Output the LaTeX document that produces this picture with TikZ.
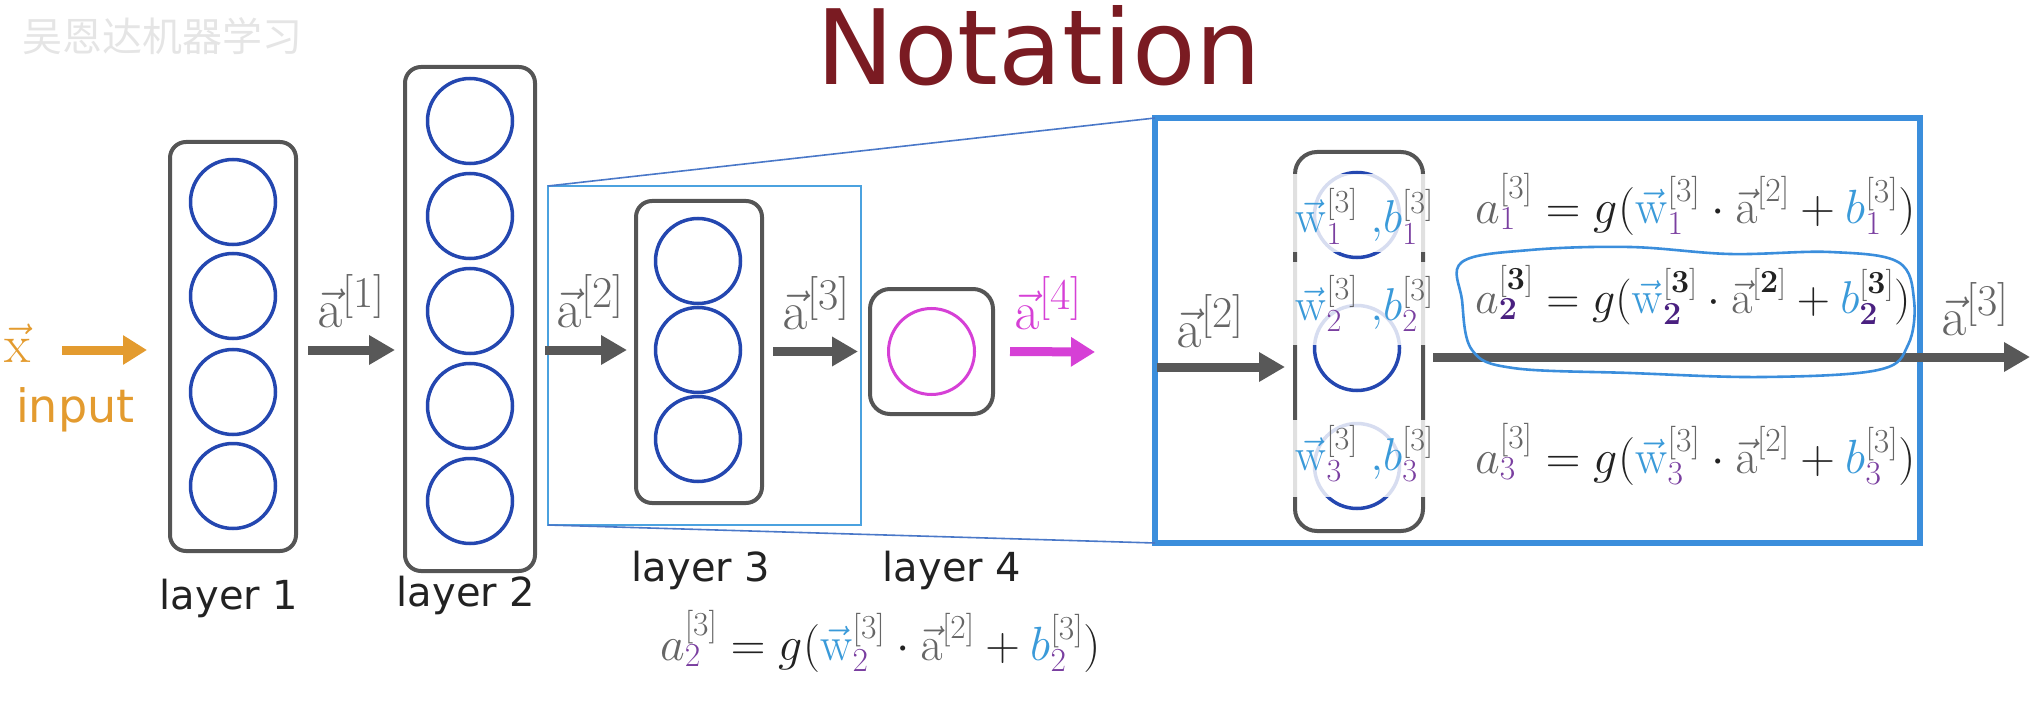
\RequirePackage{fix-cm}
\documentclass[tikz,border=0pt]{standalone}
\usepackage[no-math]{fontspec}
\setmainfont{DejaVu Sans}
\newfontfamily\cjk{Noto Sans CJK SC}
\usetikzlibrary{arrows.meta}
\definecolor{bgray}{HTML}{555555}
\definecolor{agray}{HTML}{585858}
\definecolor{gtx}{HTML}{666666}
\definecolor{ltext}{HTML}{222222}
\definecolor{nblue}{HTML}{2447B0}
\definecolor{wcol}{HTML}{3A9AD9}
\definecolor{pcol}{HTML}{7A3FA0}
\definecolor{hpur}{HTML}{4A2080}
\definecolor{ocol}{HTML}{E39B2F}
\definecolor{mcol}{HTML}{D640D6}
\definecolor{bblue}{HTML}{3B8EDC}
\definecolor{zblue}{HTML}{4BA2DF}
\definecolor{zline}{HTML}{4A78C8}
\definecolor{titlered}{HTML}{7A1B22}
\newcommand{\FSZ}[1]{\fontsize{#1}{#1}\selectfont}
\newcommand{\Cc}[2]{{{\color{#1}#2}}}
\newcommand{\Wv}{\vec{\mathrm{w}}}
\newcommand{\Av}{\vec{\mathrm{a}}}
\newcommand{\vlab}[2]{$\vec{\mathrm{#1}}^{\hbox{\FSZ{44}$[#2]$}}$}
\newcommand{\eqrow}[1]{$\mathstrut\Cc{gtx}{a}^{\Cc{gtx}{[3]}}_{\Cc{pcol}{#1}}= g(\Cc{wcol}{\Wv}^{\Cc{gtx}{[3]}}_{\Cc{pcol}{#1}}\cdot\Cc{gtx}{\Av}^{\Cc{gtx}{[2]}}+\Cc{wcol}{b}^{\Cc{gtx}{[3]}}_{\Cc{pcol}{#1}})$}
\newcommand{\eqrowB}{$\mathstrut\Cc{gtx}{a}^{\Cc{gtx}{[}\mathbf{3}\Cc{gtx}{]}}_{\Cc{hpur}{\mathbf{2}}}= g(\Cc{wcol}{\Wv}^{\Cc{gtx}{[}\mathbf{3}\Cc{gtx}{]}}_{\Cc{hpur}{\mathbf{2}}}\cdot\Cc{gtx}{\Av}^{\Cc{gtx}{[}\mathbf{2}\Cc{gtx}{]}}+\Cc{wcol}{b}^{\Cc{gtx}{[}\mathbf{3}\Cc{gtx}{]}}_{\Cc{hpur}{\mathbf{2}}})$}
\newcommand{\wblab}[1]{$\Cc{wcol}{\Wv}^{\Cc{gtx}{[3]}}_{\Cc{pcol}{#1}}\;\Cc{wcol}{,}\Cc{wcol}{b}^{\Cc{gtx}{[3]}}_{\Cc{pcol}{#1}}$}
\begin{document}
\begin{tikzpicture}[x=1pt,y=-1pt,
  layerbox/.style={draw=bgray,line width=4pt,rounded corners=16pt,inner sep=0pt,outer sep=0pt},
  neuron/.style={circle,draw=nblue,line width=3.5pt,minimum size=85pt,inner sep=0pt},
  arr/.style={draw=agray,line width=9pt,-{Triangle[length=26pt,width=28pt]}},
  lbl/.style={anchor=base,inner sep=0pt,text=gtx,font=\FSZ{54}},
  lay/.style={anchor=base,inner sep=0pt,text=ltext,font=\FSZ{40}},
  eqn/.style={anchor=base west,inner sep=0pt,text=ltext,font=\FSZ{48}},
  wbl/.style={anchor=base west,inner sep=0pt,text=ltext,font=\FSZ{46}},
  zoomline/.style={draw=zline,line width=1.6pt},
  veil/.style={fill=white,fill opacity=0.82},
  hand/.style={draw=bblue,line width=2.6pt}
]
\useasboundingbox (0,0) rectangle (2042,722);
% watermark
\node[anchor=base west,inner sep=0pt,text=black!10,font={\cjk\FSZ{40}}] (wm) at (22,52) {吴恩达机器学习};
% title
\node[anchor=base,inner sep=0pt,text=titlered,font=\FSZ{104}] (title) at (1039,85) {Notation};
% input
\node[anchor=base west,inner sep=0pt,text=ocol,font=\FSZ{54}] (xin) at (4,362) {$\vec{\mathrm{x}}$};
\node[anchor=base west,inner sep=0pt,text=ocol,font=\FSZ{46}] (inp) at (16,422) {input};
% layer 1
\node[layerbox,minimum width=126pt,minimum height=409pt] (L1) at (233,346.5) {};
\foreach \y/\n in {202/1,296/2,392/3,486/4} \node[neuron] (L1n\n) at (233,\y) {};
% layer 2
\node[layerbox,minimum width=130pt,minimum height=504pt] (L2) at (470,319) {};
\foreach \y/\n in {121/1,216/2,311/3,406/4,501/5} \node[neuron] (L2n\n) at (470,\y) {};
% zoom box
\node[draw=zblue,line width=2.5pt,minimum width=313pt,minimum height=339pt,inner sep=0pt,outer sep=0pt] (Z) at (704.5,355.5) {};
% layer 3
\node[layerbox,minimum width=126pt,minimum height=302pt] (L3) at (699,352) {};
\foreach \y/\n in {261/1,350/2,439/3} \node[neuron] (L3n\n) at (698,\y) {};
% layer 4
\node[layerbox,rounded corners=20pt,minimum width=123pt,minimum height=125pt] (L4) at (931.5,351.5) {};
\node[circle,draw=mcol,line width=3pt,minimum size=86pt,inner sep=0pt] (L4n) at (931.5,351.5) {};
% layer names
\node[lay] (n1) at (229,609) {layer 1};
\node[lay] (n2) at (466,606) {layer 2};
\node[lay] (n3) at (701,581) {layer 3};
\node[lay] (n4) at (952,581) {layer 4};
% arrows left part
\coordinate (xs) at (62,350);
\draw[draw=ocol,line width=9pt,-{Triangle[length=24pt,width=28pt]}] (xs) -- ([xshift=-23pt]L1.west |- xs);
\draw[arr] ([xshift=12pt]L1.east |- xs) -- ([xshift=-10pt]L2.west |- xs);
\draw[arr] ([xshift=10pt]L2.east |- xs) -- ([xshift=-9pt]L3.west |- xs);
\draw[arr] ([xshift=11pt]L3.east |- L4.west) -- ([xshift=-12pt]L4.west);
\coordinate (a4e) at (1095,352);
\draw[draw=mcol,line width=9pt,-{Triangle[length=24pt,width=28pt]}] ([xshift=17pt]L4.east) -- (a4e);
\node[lbl] (la1) at (351,327) {\vlab{a}{1}};
\node[lbl] (la2) at (590,327) {\vlab{a}{2}};
\node[lbl] (la3) at (816,329) {\vlab{a}{3}};
\node[lbl,text=mcol] (la4) at (1048,329) {\vlab{a}{4}};
% big box
\node[draw=bblue,line width=6pt,minimum width=765pt,minimum height=425pt,inner sep=0pt,outer sep=0pt] (B) at (1537.5,330.5) {};
\draw[zoomline] (Z.north west) -- (B.north west);
\draw[zoomline] (Z.south west) -- (B.south west);
% column
\node[layerbox,rounded corners=22pt,minimum width=128pt,minimum height=379pt] (C) at (1359,341.5) {};
\node[neuron] (C1) at (1357,215) {};
\node[neuron] (C2) at (1357,348) {};
\node[neuron] (C3) at (1357,466) {};
\fill[veil] (1286,174) rectangle (1446,252);
\fill[veil] (1286,262) rectangle (1446,345);
\fill[veil] (1286,420) rectangle (1446,497);
\node[wbl] (wb1) at (1295,233) {\wblab{1}};
\node[wbl] (wb2) at (1295,320) {\wblab{2}};
\node[wbl] (wb3) at (1295,470) {\wblab{3}};
% arrows in big box
\coordinate (ins) at (1157,367);
\draw[arr] (ins) -- ([xshift=-10pt]C.west |- ins);
\node[lbl] (lb2) at (1210,347) {\vlab{a}{2}};
\coordinate (outs) at (1433,357);
\coordinate (oute) at (2030,357);
\draw[arr] (outs) -- (oute);
\node[lbl] (lb3) at (1975,335) {\vlab{a}{3}};
% equations
\node[eqn] (e1) at (1475,223) {\eqrow{1}};
\node[eqn,font=\FSZ{46}] (e2) at (1475,313) {\eqrowB};
\node[eqn] (e3) at (1475,473) {\eqrow{3}};
\draw[hand] plot[smooth cycle,tension=0.6] coordinates {(1462,262) (1530,250) (1630,247) (1730,254) (1830,252) (1898,262) (1914,300) (1908,345) (1878,370) (1763,377) (1630,373) (1513,368) (1472,350) (1462,300)};
% bottom equation
\node[eqn] (eb) at (660,660) {\eqrow{2}};
\end{tikzpicture}
\end{document}
